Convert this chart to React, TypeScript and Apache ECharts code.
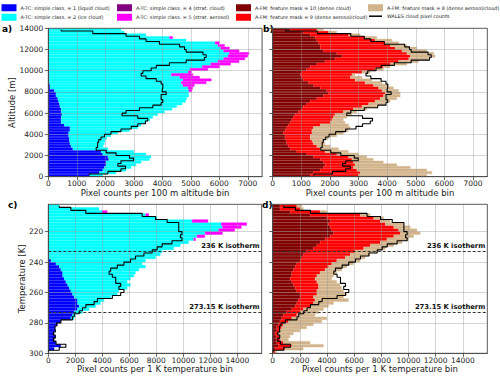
import React, { useEffect, useRef } from 'react';
import * as echarts from 'echarts';

const FONT = 'DejaVu Sans';

// ---------- categories (bins) ----------
const altBins = Array.from({ length: 56 }, (_, i) => `${i * 250}-${i * 250 + 250} m`);
const tempBins = Array.from({ length: 49 }, (_, i) => `${202 + i * 2}-${204 + i * 2} K`);

// ---------- series names ----------
const N_LIQ = 'A-TC: simple class. = 1 (liquid cloud)';
const N_ICE = 'A-TC: simple class. = 2 (ice cloud)';
const N_SCLD = 'A-TC: simple class. = 4 (strat. cloud)';
const N_SAER = 'A-TC: simple class. = 5 (strat. aerosol)';
const N_FM10 = 'A-FM: feature mask = 10 (dense cloud)';
const N_FM9 = 'A-FM: feature mask = 9 (dense aerosol/cloud)';
const N_FM8 = 'A-FM: feature mask = 8 (dense aerosol/cloud)';
const N_WALES = 'WALES cloud pixel counts';

// ---------- panel a: altitude, A-TC classes ----------
const aLiquid = [1440,1790,1910,1970,2030,2030,2120,2090,1910,1850,860,800,760,740,740,710,710,760,760,560,450,450,450,480,450,450,410,390,360,330,270,270,210,60,60,35,35,35,35,25,25,12,12,10,10,10,10,10,0,0,0,0,0,0,0,0];
const aIce = [470,590,820,940,1050,1230,1430,1520,1520,1150,1230,1130,1210,1260,1310,1490,1730,2090,2380,2700,2980,3120,3220,3360,3630,3900,4100,4310,4460,4530,4660,4660,4720,4840,4660,4630,4690,4580,4280,4880,4940,5390,5690,5940,6140,6290,6340,6140,6050,5950,5850,4840,4250,3430,2670,2550];
const aStratCloud = [0,0,0,0,0,0,0,0,0,0,0,0,0,0,0,0,0,0,0,0,0,0,0,0,0,0,0,0,0,0,0,0,0,0,0,0,0,0,0,0,0,0,0,0,0,0,0,0,0,0,0,0,0,0,0,0];
const aStratAerosol = [0,0,0,0,0,0,0,0,0,0,0,0,0,0,0,0,0,0,0,0,0,0,0,0,0,0,0,0,0,0,0,0,120,170,410,880,1000,700,760,120,640,610,700,750,750,700,700,550,310,240,160,0,120,0,0,0];
const walesAlt = [1440,2090,2550,2710,2440,2550,2990,2850,2380,2030,1680,1730,1730,1770,1850,1970,2200,2550,2910,3140,3410,3490,3140,2590,2730,3200,3670,3960,4020,3960,3960,4140,4000,4020,4020,3960,3790,3430,3260,3320,3610,3790,4250,4840,5480,5540,5430,4840,4780,4610,3900,3430,3200,2730,1560,450];

// ---------- panel b: altitude, A-FM feature mask ----------
const bFM10 = [1310,1420,1660,1770,1830,1770,1660,1420,1190,840,610,550,490,490,430,430,370,430,490,550,610,670,720,780,900,1020,1070,1190,1310,1540,1770,1950,1890,1660,1420,1250,1070,1020,960,1020,1190,1310,1540,1830,2180,2420,2240,1770,1660,1660,1600,1540,1480,1310,1070,610];
const bFM9 = [1690,1640,1280,1050,1050,1050,1110,1230,1050,990,1050,990,930,880,880,880,1000,940,930,1110,1400,1400,1400,1400,1570,1800,2050,2160,2270,2220,2100,1980,1930,2040,2100,1980,1810,1690,1810,2100,2390,2560,2570,2570,2570,2390,2450,2750,2620,2450,2330,2040,1750,1340,880,930];
const bFM8 = [2390,2510,2450,1990,1460,1050,750,640,760,820,640,470,410,400,640,930,1100,1280,1290,990,520,400,470,590,470,470,520,580,530,580,590,530,580,520,530,590,590,410,110,290,290,240,580,700,700,870,940,870,760,580,470,590,410,410,290,230];

// ---------- panel c: temperature, A-TC classes ----------
const cLiquid = [0,0,0,0,0,0,0,0,0,0,0,0,0,0,0,0,0,0,200,570,810,930,1060,1060,1180,1300,1430,1550,1670,1790,1920,2160,2160,2290,2160,1920,1790,1670,930,690,520,520,440,520,440,570,930,440,25];
const cIce = [810,3760,4000,7200,8060,10640,12800,12900,12600,11600,11000,10760,10390,9780,9290,8430,8300,7940,7000,6380,6390,5780,5400,5280,4910,4550,4660,4300,3560,3320,2700,1970,1720,1220,860,610,250,250,0,0,0,0,0,0,0,0,0,0,0];
const cStratCloud = [0,0,0,0,0,0,0,0,0,0,0,0,0,0,0,0,0,0,0,0,0,0,0,0,0,0,0,0,0,0,0,0,0,0,0,0,0,0,0,0,0,0,0,0,0,0,0,0,0];
const cStratAerosol = [0,0,370,250,0,1200,1900,1400,1200,1300,600,150,0,0,0,0,0,0,0,0,0,0,0,0,0,0,0,0,0,0,0,0,0,0,0,0,0,0,0,0,0,0,0,0,0,0,0,0,0];
const walesTemp = [810,1670,2780,6950,7940,8800,9660,9660,9660,9900,9780,9900,9160,8430,8060,7690,7080,6460,6090,5600,5110,4620,4500,4740,4990,4990,5360,5230,5600,5360,4740,3640,3390,2780,2530,2290,1920,1790,930,610,490,520,370,520,370,570,1300,810,25];

// ---------- panel d: temperature, A-FM feature mask ----------
const dFM10 = [540,540,1280,2760,3990,4230,4110,4230,4350,4480,4230,3860,3490,3250,3000,2510,2260,2140,2020,1770,1650,1530,1400,1400,1280,1400,1530,1650,1770,2020,2020,1890,1770,1650,1400,1030,790,660,540,420,300,300,170,250,300,300,420,170,50];
const dFM9 = [1230,1480,2210,3690,3440,3690,4180,4680,4920,4920,4680,4550,4430,3930,3690,3570,3450,3200,2700,2580,2460,2330,2090,1850,1840,1850,1840,1720,1480,1230,980,1230,1230,1110,860,990,980,740,620,370,360,240,250,290,240,490,980,740,120];
const dFM8 = [370,240,500,730,740,740,1350,1230,1360,1470,1470,1600,1600,1730,1600,1600,1470,1470,1730,1600,1350,1230,1230,1230,1230,1470,1600,1720,1970,2210,2220,2460,1480,1350,1480,1350,1350,2590,2460,2210,1850,1480,1110,740,620,1970,2340,1350,130];

// ---------- isotherms ----------
const isothermValues = [233.15, 273.15];
const isothermLabels = ['236 K isotherm', '273.15 K isotherm'];

const COLORS: Record<string, string> = {
  [N_LIQ]: '#0000ff',
  [N_ICE]: '#00ffff',
  [N_SCLD]: '#800080',
  [N_SAER]: '#ff00ff',
  [N_FM10]: '#800000',
  [N_FM9]: '#ff0000',
  [N_FM8]: '#d2b48c',
  [N_WALES]: '#000000',
};

const AX = '#444';
const TXT = '#222';
const splitLine = { show: true, lineStyle: { color: 'rgba(150,150,150,0.5)', width: 0.8 } };
const plain = (v: number) => String(v);

function xAxis(gridIndex: number, max: number, interval: number, name: string) {
  return {
    type: 'value', gridIndex, min: 0, max, interval,
    name, nameLocation: 'middle', nameGap: 11.5, nameMoveOverlap: false,
    nameTextStyle: { fontSize: 8.5, color: TXT, fontFamily: FONT },
    axisLine: { show: true, onZero: false, lineStyle: { color: AX, width: 0.8 } },
    axisTick: { show: true, length: 3.5, lineStyle: { color: AX, width: 0.8 } },
    axisLabel: { show: true, fontSize: 7.5, color: TXT, fontFamily: FONT, margin: 3, showMaxLabel: false, formatter: plain },
    splitLine,
    z: 3,
  };
}

function yValue(gridIndex: number, o: any) {
  return {
    type: 'value', gridIndex,
    min: o.min, max: o.max, interval: o.interval, splitNumber: o.splitNumber, inverse: !!o.inverse,
    name: o.name || '', nameLocation: 'middle', nameRotate: 90, nameGap: o.nameGap || 30, nameMoveOverlap: false,
    nameTextStyle: { fontSize: 8.5, color: TXT, fontFamily: FONT },
    axisLine: { show: true, onZero: false, lineStyle: { color: AX, width: 0.8 } },
    axisTick: { show: true, length: 3.5, lineStyle: { color: AX, width: 0.8 } },
    axisLabel: { show: !!o.labels, fontSize: 7.5, color: TXT, fontFamily: FONT, margin: 5, showMinLabel: o.showMinLabel !== false, formatter: plain },
    splitLine,
    z: 3,
  };
}

function yCat(gridIndex: number, data: string[], inverse: boolean) {
  return { type: 'category', gridIndex, data, show: false, inverse, boundaryGap: true };
}

const nz = (arr: number[]) => arr.map((v) => (v === 0 ? null : v));

function bar(name: string, xi: number, yi: number, stack: string, data: number[]) {
  const c = COLORS[name];
  return {
    type: 'bar', name, xAxisIndex: xi, yAxisIndex: yi, stack, data: nz(data),
    barCategoryGap: '0%', barGap: '0%',
    itemStyle: { color: c, borderColor: c, borderWidth: 0.4 },
    emphasis: { disabled: true }, silent: true, z: 2,
  };
}

function wales(xi: number, yi: number, data: number[]) {
  return {
    type: 'line', name: N_WALES, xAxisIndex: xi, yAxisIndex: yi, data, step: 'middle',
    symbol: 'none', showSymbol: false, lineStyle: { color: '#000', width: 1.1 }, itemStyle: { color: '#000' },
    emphasis: { disabled: true }, silent: true, z: 5,
  };
}

function isotherms(xi: number, yi: number) {
  return {
    type: 'line', xAxisIndex: xi, yAxisIndex: yi, data: [], silent: true, z: 6,
    markLine: {
      silent: true, animation: false, symbol: ['none', 'none'],
      lineStyle: { color: '#333', type: [3, 2], width: 1.1 },
      label: { show: true, position: 'insideEndTop', distance: 2, fontSize: 6.8, fontWeight: 'bold', color: '#111', fontFamily: FONT },
      data: isothermValues.map((v, k) => ({ yAxis: v, label: { formatter: isothermLabels[k] } })),
    },
  };
}

function buildOption() {
  const gridCommon = { show: true, borderColor: AX, borderWidth: 0.8, backgroundColor: 'transparent', z: 10, containLabel: false, outerBoundsMode: 'none' };
  const legendCommon = {
    orient: 'vertical', itemWidth: 13, itemHeight: 5, itemGap: 2.5, padding: 0, selectedMode: false,
    textStyle: { fontSize: 4.9, color: TXT, fontFamily: FONT },
  };
  const titleX1 = 'Pixel counts per 100 m altitude bin';
  const titleX2 = 'Pixel counts per 1 K temperature bin';
  const label = (text: string, left: number, top: number) => ({
    type: 'text', left, top, silent: true,
    style: { text, fontSize: 9, fontWeight: 'bold', fontFamily: FONT, fill: '#000' },
  });
  return {
    animation: false,
    backgroundColor: '#fff',
    textStyle: { fontFamily: FONT },
    grid: [
      { left: 48.3, top: 28.3, width: 213.7, height: 148.4, ...gridCommon },
      { left: 272.7, top: 28.3, width: 214.6, height: 148.4, ...gridCommon },
      { left: 48.3, top: 204.3, width: 213.4, height: 149, ...gridCommon },
      { left: 272.7, top: 204.3, width: 214.6, height: 149, ...gridCommon },
    ],
    xAxis: [
      xAxis(0, 7500, 1000, titleX1),
      xAxis(1, 7500, 1000, titleX1),
      xAxis(2, 15800, 2000, titleX2),
      xAxis(3, 15800, 2000, titleX2),
    ],
    yAxis: [
      yValue(0, { min: 0, max: 14000, interval: 2000, name: 'Altitude [m]', nameGap: 32, labels: true }),
      yCat(0, altBins, false),
      yValue(1, { min: 0, max: 14000, interval: 2000, labels: false }),
      yCat(1, altBins, false),
      yValue(2, { min: 202, max: 300, splitNumber: 5, inverse: true, name: 'Temperature [K]', nameGap: 22, labels: true, showMinLabel: false }),
      yCat(2, tempBins, true),
      yValue(3, { min: 202, max: 300, splitNumber: 5, inverse: true, labels: false }),
      yCat(3, tempBins, true),
    ],
    legend: [
      { ...legendCommon, left: 1.5, top: 4.2, data: [{ name: N_LIQ, icon: 'rect' }, { name: N_ICE, icon: 'rect' }] },
      { ...legendCommon, left: 117, top: 4.2, data: [{ name: N_SCLD, icon: 'rect' }, { name: N_SAER, icon: 'rect' }] },
      { ...legendCommon, left: 236, top: 4.2, data: [{ name: N_FM10, icon: 'rect' }, { name: N_FM9, icon: 'rect' }] },
      { ...legendCommon, left: 368, top: 4.2, data: [{ name: N_FM8, icon: 'rect' }, { name: N_WALES, icon: 'path://M0,0H26V3H0Z' }] },
    ],
    graphic: [
      label('a)', 2, 24),
      label('b)', 263, 24),
      label('c)', 8, 200),
      label('d)', 262, 200),
    ],
    series: [
      bar(N_LIQ, 0, 1, 'a', aLiquid),
      bar(N_ICE, 0, 1, 'a', aIce),
      bar(N_SCLD, 0, 1, 'a', aStratCloud),
      bar(N_SAER, 0, 1, 'a', aStratAerosol),
      wales(0, 1, walesAlt),

      bar(N_FM10, 1, 3, 'b', bFM10),
      bar(N_FM9, 1, 3, 'b', bFM9),
      bar(N_FM8, 1, 3, 'b', bFM8),
      wales(1, 3, walesAlt),

      bar(N_LIQ, 2, 5, 'c', cLiquid),
      bar(N_ICE, 2, 5, 'c', cIce),
      bar(N_SCLD, 2, 5, 'c', cStratCloud),
      bar(N_SAER, 2, 5, 'c', cStratAerosol),
      wales(2, 5, walesTemp),
      isotherms(2, 4),

      bar(N_FM10, 3, 7, 'd', dFM10),
      bar(N_FM9, 3, 7, 'd', dFM9),
      bar(N_FM8, 3, 7, 'd', dFM8),
      wales(3, 7, walesTemp),
      isotherms(3, 6),
    ],
  };
}

export default function App() {
  const ref = useRef<HTMLDivElement>(null);
  useEffect(() => {
    if (!ref.current) return;
    const chart = echarts.init(ref.current, null, { renderer: 'svg' });
    chart.setOption(buildOption() as any);
    return () => chart.dispose();
  }, []);
  return (
    <div
      ref={ref}
      style={{ position: 'fixed', left: 0, top: 0, width: 500, height: 381, background: '#fff' }}
    />
  );
}
